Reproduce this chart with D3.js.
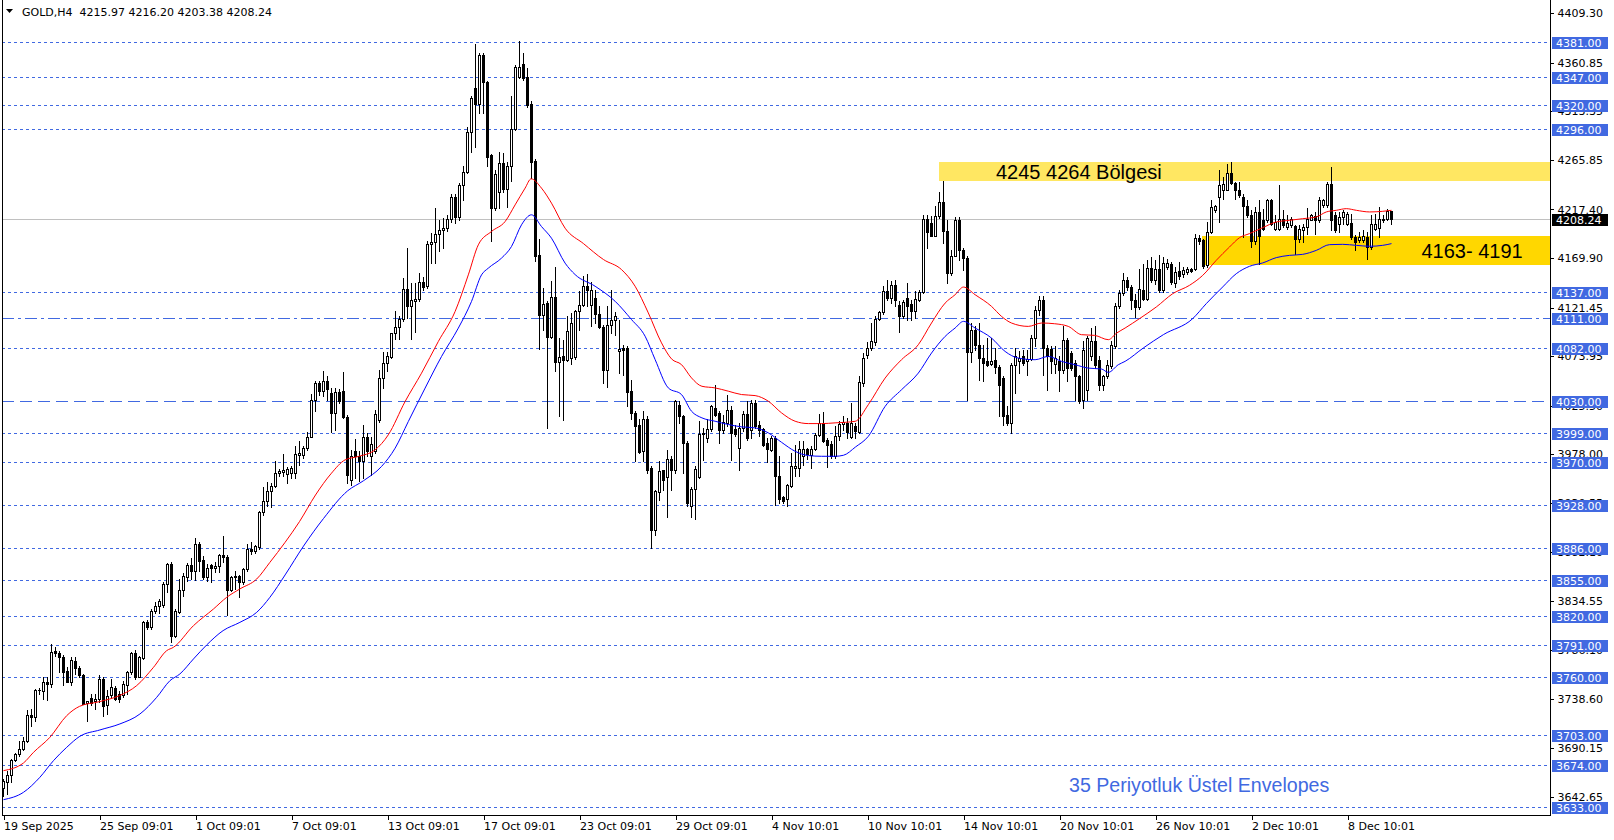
<!DOCTYPE html>
<html><head><meta charset="utf-8">
<script src="https://cdn.jsdelivr.net/npm/d3@7"></script>
<style>
html,body{margin:0;padding:0;background:#fff;}
svg{display:block;}
</style></head>
<body>
<svg id="chart" width="1614" height="840"></svg>
<script>
// ---------------- DATA ----------------
const headerText = "GOLD,H4  4215.97 4216.20 4203.38 4208.24";
const openP = [
3651,3657.5,3664,3679,3685,3689.5,3697.6,3723,3721,3747,
3746,3755.4,3753,3785.7,3783.4,3779.2,3766,3755.4,3775.9,3768.4,
3761.9,3734.5,3739,3736.8,3738.4,3758,3732.5,3742,3748.8,3743.3,
3742.3,3752.4,3764.5,3783.4,3760,3778.2,3813.4,3808.5,3824.8,3829.8,
3830.7,3851,3870.5,3800.4,3823.9,3845.4,3857.5,3869.5,3864,3890,
3874.8,3857.5,3869.5,3866.3,3868.2,3879.3,3877,3845.4,3857.5,3859.1,
3852.6,3865.6,3885.2,3882.9,3886.8,3921,3931.8,3941.6,3947.2,3959.5,
3961,3958.4,3960,3960,3976.7,3976.7,3983.8,3995.2,4030.5,4047.4,
4039.3,4049.1,4037.7,4018.1,4038.6,4039.3,4014.8,3953,3980.6,3975.7,
3970.8,3995.2,3975.7,3980.6,4011.6,4052.3,4067,4073.5,4096.4,4102.2,
4110.4,4139.4,4122.5,4128.3,4129.6,4146.9,4143,4183.5,4185.4,4193.2,
4197.5,4199.1,4207.9,4230.1,4209.6,4240.9,4253.9,4293.1,4336.1,4320.5,
4368.7,4341.7,4270.9,4218.7,4235,4262.7,4237.6,4259.5,4296,4347.5,
4359.6,4347.5,4320.5,4265,4172.4,4113.7,4125.7,4093.1,4131.9,4068,
4074.5,4070.5,4072.2,4072.8,4117.9,4124.4,4143,4124.4,4130.3,4115.2,
4102.5,4060.8,4104.8,4109.7,4078.7,4082,4082,4039.6,4018.4,4006.9,
3980.8,4012.5,3964.5,3903.6,3941.1,3962.3,3955.7,3973.3,3962.3,4026.5,
4015.8,3989,3927,3944,3955.7,3997.3,3993.9,4002.7,4023.3,4018.4,
4002,4008.6,4021.6,4002.7,3984.1,4003.7,4017.7,4001.4,4028.1,4006.9,
4002.7,3989,3982.5,3993.9,3957,3936.2,3934.2,3947.3,3964.9,3964.5,
3975.9,3983.1,3977.6,3983.1,3997.2,4008.6,3992.3,3988.4,3975.9,3995.5,
4007.9,4008.4,3994.7,4005.8,3999.3,4047.6,4075.3,4081.8,4087.4,4110.2,
4116.7,4137.3,4130.7,4143.8,4123.6,4112.8,4130.7,4125.2,4117.7,4129.1,
4136.3,4208,4204.1,4191.7,4210.6,4224.3,4196,4155.2,4172.2,4207.4,
4177.4,4169.9,4077.5,4099.7,4085.1,4072,4069.4,4066.5,4070.4,4063.2,
4052.4,4016.6,4008.4,4065.5,4068.8,4073.6,4068.8,4071,4091.6,4119.3,
4129.1,4081.8,4080.9,4066.5,4068.8,4060.6,4090,4076.9,4067.1,4054.1,
4031.3,4041,4073.6,4088.3,4069.7,4045.9,4054.1,4063.9,4083.4,4122.6,
4135.6,4148.1,4141.6,4128.5,4122,4138.3,4130.1,4160.5,4148.1,4159.5,
4138.3,4161.1,4164.4,4145.5,4157.2,4154.6,4156.2,4158.9,4158.9,4189.8,
4187.2,4162.8,4195.4,4216.6,4229.6,4236.8,4236.8,4253.1,4243.7,4236.8,
4229.6,4220.5,4211.7,4186.6,4214.9,4206.8,4206.8,4226.4,4198.6,4198.6,
4208.4,4200.3,4201.9,4200.9,4188.9,4197,4200.3,4207.5,4210.7,4206.8,
4221.5,4221.5,4242.7,4211.7,4202.9,4210.1,4203.5,4204.2,4190.5,4187.2,
4187.9,4190.5,4180.7,4198.6,4199.6,4206.8,4208.4,4215.97];
const highP = [
3660,3668,3680,3686,3697,3701,3728,3728.6,3748,3749,
3759.6,3759.6,3792,3789,3785.7,3781,3770,3779,3779,3771,
3762.5,3736.8,3743,3743,3762,3759.6,3747,3758,3751,3746,
3756,3766,3784.6,3786,3780.5,3815,3816,3826.3,3833,3836,
3852.6,3871.5,3872,3826.3,3856,3861.7,3871.5,3876,3896,3891.7,
3878.6,3870.5,3870.5,3872,3880,3897.6,3879,3859,3864,3860,
3866.6,3890,3891.7,3889,3922.7,3945.5,3950.4,3950,3971,3963.5,
3978,3965,3966,3986.4,3990.4,3986.4,4000,4036.7,4049.5,4049.1,
4059.5,4054,4042.6,4042.6,4041.9,4058.2,4016,3982.2,3992.9,3980.6,
4006.7,3998.5,3995.2,4021.3,4060.5,4077.8,4078.4,4096.4,4117.6,4112.7,
4150.2,4179.5,4145.3,4145.3,4155.1,4151.8,4186.7,4194.2,4218.7,4207.3,
4208.9,4212.1,4232.4,4232.4,4243.1,4259.5,4298.6,4328,4379.2,4370.4,
4370.4,4343.3,4271.5,4256.2,4274.1,4272.5,4264.3,4328,4358.9,4382.4,
4370.4,4356.3,4323.1,4267,4188.7,4140.4,4127.4,4147.6,4161.6,4091.6,
4090,4113.6,4116.2,4119.5,4137.4,4152.1,4154.4,4146.2,4139,4122.7,
4104.8,4122.7,4138.4,4117.2,4109.7,4085.2,4083.6,4050.3,4020,4012.5,
4020,4015.1,3966.2,3943.3,3971.1,3962.9,3982.5,3975.9,4030.8,4029.8,
4016.7,3990.6,3945.9,3966.2,4010.2,4003.7,4011.9,4026.5,4046.1,4020,
4016.7,4036.3,4024.9,4006.9,4008.6,4020,4029.8,4031.4,4031.4,4010.2,
4003.7,3993.9,3995.5,3995.5,3975.9,3937.5,3949.2,3979.2,3987.4,3990.6,
3990.6,3984.1,3985.7,3998.8,4017.7,4019,3993.9,3990.6,4005.3,4010.2,
4015.1,4013.3,4028,4008.4,4054.1,4076.9,4087.4,4106.3,4112.8,4117.7,
4142.1,4148.7,4147,4148.7,4127.5,4129.1,4145.4,4129.1,4137.3,4138.2,
4212.3,4212.3,4210.6,4220.4,4234.1,4244.9,4207.4,4178,4210,4210,
4179.7,4171.5,4106.3,4103,4106.3,4085.1,4091.6,4091.6,4081.8,4065.5,
4054.7,4024.7,4067.1,4081.8,4078.5,4080.2,4080.2,4094.9,4122.6,4133,
4133,4085.1,4083.4,4083.4,4073.6,4103,4091.6,4078.5,4070.4,4055.7,
4088.3,4093.2,4101.4,4103,4073.6,4055.7,4070.4,4088.3,4125.8,4138.9,
4155.2,4151.3,4143.2,4135,4159.5,4164.4,4167.7,4170.9,4167.7,4172.5,
4170.9,4169.3,4166,4161.1,4166,4161.1,4161.1,4160.5,4193.8,4192.1,
4189,4205.2,4226.4,4221.5,4255.7,4249.2,4262.3,4263.9,4244.3,4244.3,
4232.9,4226.4,4216.6,4219.9,4226.4,4218.2,4228,4228,4211.7,4241.1,
4216.6,4211.7,4210.1,4201.9,4201.9,4203.5,4219.2,4213.3,4214.9,4229.6,
4228,4244.3,4259,4214.9,4214.9,4217.2,4214.9,4213.3,4192.1,4195.4,
4197,4195.4,4211.7,4213.3,4219.9,4211.7,4218.2,4216.2];
const lowP = [
3643,3645,3657,3678,3683,3688,3696,3712,3717,3743,
3738,3737,3750,3780,3765,3752,3755,3752,3763,3759.6,
3733.5,3717,3733,3729,3735,3722,3724,3740,3737,3735,
3740,3743,3763,3758,3759.6,3777.6,3807,3807,3823,3823,
3828,3843,3793.9,3798.8,3822.6,3839.5,3854,3856,3855,3864,
3855.8,3854,3853,3862.3,3862.3,3872,3820.6,3844.4,3846,3837.9,
3851,3864,3880.3,3881.3,3885,3918.7,3927.6,3926,3945.5,3957,
3957,3950,3955,3955,3967.5,3974,3982,3995,4020.4,4036,
4034.4,4031,4000.1,4001.8,4027.9,4013.2,3950,3948,3955,3952,
3955,3975.7,3957.7,3978.9,4009.9,4043.2,4058.9,4071.9,4090.8,4090.8,
4107.8,4111,4090.8,4098,4127.4,4138.8,4140.4,4164.9,4164.9,4176.3,
4179.5,4195.9,4205.6,4204,4207.3,4226.8,4252.9,4274.1,4278.1,4311.6,
4311.6,4259.5,4186.1,4217.1,4218.7,4235,4220.3,4244.8,4295.3,4346,
4344.3,4317.2,4248,4167.2,4081,4099.6,4003.4,4091.5,4058.9,4015,
4011,4068.9,4066.6,4071.2,4099.9,4122.7,4122.7,4103.2,4106.4,4101.5,
4047.7,4043.8,4096.6,4095,4057.5,4055.9,4024.9,4012.5,3971.1,3979.2,
3971.1,3959.7,3886.3,3899.3,3933.5,3943.3,3916.6,3943.3,3959.7,4008.6,
3959.7,3927,3916.6,3914.6,3954.8,3972.7,3989.6,4000.4,4015.1,3989,
3998.8,4005.3,3972.7,3995.5,3962.3,4000.4,3992.3,3993.9,4003.7,3995.5,
3985.8,3970.1,3980.8,3928.7,3929.7,3930.3,3927.7,3945.9,3956.4,3956.4,
3967.8,3973.3,3964.5,3982.5,3996.2,3989.6,3965.5,3974.3,3974.3,3992.3,
4002,3993.7,3993.7,3993.7,3998.6,4044.3,4072,4080.2,4085.1,4109.5,
4115.4,4129.1,4125.8,4122.6,4097.1,4111.2,4109.5,4108.9,4111.2,4127.5,
4135.6,4179.7,4191.1,4191.1,4209,4184.6,4145.4,4153.6,4171.5,4168.2,
4158.5,4031.3,4067.8,4080.2,4050.8,4049.2,4063.9,4065.5,4057.3,4015,
4006.8,4006.8,3998.6,4037.8,4057.3,4065.5,4055.7,4070.4,4083.4,4114,
4055.7,4041,4057.3,4057.3,4039.4,4057.3,4049.2,4060.6,4031.3,4028,
4023.1,4031.3,4070.4,4062.2,4041,4041,4052.4,4062.2,4081.8,4121,
4134,4138.3,4120.4,4112.2,4120.4,4128.5,4128.5,4146.5,4144.8,4136.7,
4136.7,4159.5,4144.8,4141.6,4149.7,4151.3,4153.9,4156.2,4157.9,4184,
4160.5,4161.1,4194.4,4214.9,4205.2,4228,4236.2,4242.7,4228,4229.6,
4190.5,4210.1,4180.7,4184,4164.4,4197,4205.2,4201.9,4197,4197,
4200.3,4198.6,4200.3,4174.2,4185.6,4185.6,4193.8,4206.8,4193.8,4205.2,
4219.9,4219.9,4197,4195.4,4195.4,4203.5,4201.9,4188.9,4177.4,4185.6,
4185.6,4169.3,4179.1,4197,4190.5,4205.2,4206.8,4203.38];
const closeP = [
3658.5,3664,3679,3685,3689.5,3697.6,3723,3721,3747,3747.5,
3755.4,3753,3784,3783.4,3779.2,3764.5,3755.4,3776.6,3768.4,3761.9,
3733.5,3736.8,3734.5,3738.4,3758,3732,3741.7,3749.8,3738.4,3738.4,
3753,3764.5,3783.4,3760,3779.2,3813.4,3808.5,3824.8,3829.8,3834,
3851,3870.5,3800.4,3824.8,3845.4,3859.1,3869.5,3864,3890,3873.8,
3858.1,3866.6,3866.6,3868.2,3879.3,3877,3845.4,3857.5,3859.1,3852.6,
3865.6,3885.2,3882.9,3887.8,3921.7,3931.8,3941.6,3947.2,3959.5,3961.8,
3962,3963.6,3964.3,3978,3978.9,3983.8,3995.2,4030.5,4047.4,4039.3,
4049.1,4041.9,4018.1,4038.6,4030.1,4014.8,3958,3975.7,3975.7,3970.8,
3995.2,3980.6,3987.7,4017.1,4052.3,4067,4074.2,4096.4,4102.2,4110.4,
4139.4,4122.5,4129,4129.6,4146.9,4142,4183.5,4185.4,4193.2,4197.5,
4199.1,4207.9,4230.1,4209.6,4241.5,4253.9,4293.1,4326.3,4320.5,4368.7,
4341.7,4269.2,4218.7,4252,4262.7,4237.6,4259.5,4296,4356.7,4356.7,
4346.5,4319.8,4264.3,4171.4,4113.7,4124.7,4093.1,4131.9,4068,4073.3,
4070.4,4098.9,4106.4,4117.9,4124.4,4143,4138.4,4139,4115.2,4102.5,
4060.1,4104.8,4109.7,4113,4081,4079.7,4038.6,4018.4,4005.9,3979.9,
4012.5,3962.3,3903.6,3941.7,3961.3,3952.5,3973.3,3962.3,4029.8,4015.1,
3989,3929.7,3944,3963.6,3998.1,3998.8,4002.7,4024.9,4016.7,4002,
4009.2,4021.6,3998.8,3998.1,4003.7,4017.7,3993.9,4028.1,4006,4002,
3987.4,3983.1,3993.9,3956.4,3934.2,3931.9,3948.2,3966.8,3966.8,3983.1,
3983.1,3978.6,3983.1,3997.2,4008.6,3990.6,3987.4,3975.9,3995.5,4007.9,
4009.2,3999.3,4008.4,4000.3,4048.2,4072,4081.8,4088.3,4110.2,4116.7,
4137.3,4130.7,4143.8,4129.1,4112.8,4126.5,4122.6,4117.7,4129.8,4136.3,
4208,4195,4191.7,4211.3,4224.3,4196,4155.2,4172.2,4207.4,4177.4,
4169.9,4077.5,4099.1,4085.1,4072,4067.1,4065.5,4069.4,4063.2,4045.9,
4015.6,4008.4,4065.5,4073.6,4072,4067.1,4071,4091.6,4119.3,4129.1,
4081.8,4073.6,4068.8,4072,4060.6,4090,4062.2,4062.2,4054.1,4029.6,
4080.2,4091.6,4088.3,4065.5,4045.9,4054.1,4065.5,4085.1,4122.6,4135.6,
4148.7,4141.6,4128.5,4122,4139.9,4130.1,4160.5,4148.1,4159.5,4138.3,
4165.1,4165.1,4146.5,4156.2,4152,4157.9,4158.9,4157.2,4189.8,4186.6,
4161.8,4195.4,4219.9,4220.5,4241.7,4242.7,4253.1,4243.7,4236.8,4231.3,
4220.5,4211.7,4186.6,4214.9,4191.1,4198.6,4226.4,4203.5,4205.2,4208.4,
4201.9,4204.2,4208.4,4188.9,4198.6,4200.3,4208.4,4211.7,4206.8,4226.4,
4226.4,4242.7,4206.8,4197,4210.1,4214.9,4213.3,4190.5,4185.6,4190.5,
4191.1,4180.7,4203.5,4203.5,4208.4,4208.4,4215.9,4208.24];

// Envelope lines (bar index, price)
const upperBars = [0,5,7.5,11.6,15.8,19,24,29,33.3,37.5,40.8,42.5,47.5,52.5,55.8,59.1,63.3,66.6,70.4,74,78,82,85.4,88.7,92.9,96.2,100.4,104.5,108.7,112.9,116.2,118.7,122,125.4,127.9,130.4,131.9,134.5,137,140.4,145,150,154.5,157.9,161.2,164.5,167,169.5,172,174.6,177.9,181.2,184.5,187.9,191.2,194.5,197.9,201.2,204.5,207.9,212.9,216.2,220.4,224.5,228.7,232,235.4,237.9,240,242.9,247,249.5,252,256.2,259.5,262.8,266.2,269.5,272.8,276.2,278.3,280.4,284,288.2,292.3,296.5,299.8,303.2,306.5,309,311.5,314.8,318.2,321.5,324.8,328.2,330.7,333.2,335.7,338.2,341.5,344.8,347];
const upperVals = [3668.3,3675.8,3686.2,3700.9,3722.1,3731.2,3735.8,3741.7,3751.5,3769.4,3785.7,3789,3810.2,3826.5,3837.9,3846.1,3855.8,3872.1,3891.7,3912,3938,3959.4,3972.4,3975.7,3982.2,3996.9,4029.5,4057.2,4088.2,4117.6,4153.4,4182.8,4195.9,4205.6,4221.9,4238.3,4247.4,4238.3,4223.6,4199.1,4184,4168.4,4158.6,4142.3,4116.2,4086.9,4071.2,4065.6,4052.6,4044.4,4042.8,4039.6,4036.3,4035.3,4029.8,4018.4,4010.2,4007.9,4007.9,4008.6,4010.1,4026.4,4052.4,4070.4,4085.1,4106.3,4125.8,4134,4141.5,4134,4122.6,4112.8,4106.3,4103,4106.3,4105.6,4103,4094.9,4094.2,4090,4096.5,4101.4,4110.6,4122,4135,4143.2,4152.9,4167.7,4180.7,4189.8,4193.8,4199.6,4205.2,4206.8,4208.4,4210.1,4215,4216.6,4218.2,4216.6,4215,4215.6,4216.6];
const lowerBars = [0,5,9.1,12.5,15.8,19.1,24.1,29.1,34.1,38.3,41.6,44.1,47.5,50.8,54.9,59.1,63.3,66.6,70.4,75,80,86,90,94.5,97.9,101.2,105.4,109.5,113.7,117,119.5,121.2,124.5,127,129.5,132,134.5,137,140.4,142.9,147.9,152.9,157,160.4,162.9,166.2,169.5,172,174.6,177.9,181.2,184.5,187.9,191.2,194.5,197.9,201.2,204.5,207.9,210,213,216.2,220.4,224.5,228.7,232,235.4,237.9,240,242.9,247,250.4,253.7,257.9,261.2,264.5,267.9,271.2,274.5,276.2,278.7,280.4,285,290,297.3,300.7,304.8,308.2,311.5,314.8,318.2,321.5,324.8,328.2,331.5,334.8,338.2,341.5,344.8,347];
const lowerVals = [3639.9,3647.1,3661.8,3678.1,3691.1,3701.9,3708.1,3714,3723.7,3740,3756.3,3762.9,3777.6,3791.3,3805.3,3813.4,3823.2,3837.9,3859.8,3888,3915,3942,3952,3965.9,3983.8,4009.9,4042.6,4073.5,4101.3,4127.4,4153.4,4160,4169.8,4181.2,4202.4,4212.2,4200.7,4189.3,4164.9,4153.7,4142.3,4127.6,4109.7,4093.4,4070.6,4042.8,4036.3,4020,4013.5,4010.2,4007,4004.7,4003.7,3998.8,3989.6,3980.8,3976.6,3975.9,3975.9,3976.9,3985,3995.4,4024.7,4041,4057.3,4076.9,4093.2,4101.4,4107.9,4101.4,4091.6,4078.5,4072,4070.4,4073.6,4068.8,4065.5,4062.2,4061.3,4058,4065.5,4068.8,4082,4095,4110.6,4125.3,4141.6,4154.6,4161.8,4165.1,4170.3,4172.5,4173.5,4177.4,4183,4183.3,4182.3,4181.4,4182.3,4184];

const levelPrices = [4381,4347,4320,4296,4137,4111,4082,4030,3999,3970,3928,3886,3855,3820,3791,3760,3703,3674,3633];
const priceTicks = [4409.30,4360.85,4313.35,4265.85,4217.40,4169.90,4121.45,4073.95,4025.50,3978.00,3930.55,3882.10,3834.55,3786.10,3738.60,3690.15,3642.65];
const dateBars = [0,24,48,72,96,120,144,168,192,216,240,264,288,312,336];
const dateLabels = ["19 Sep 2025","25 Sep 09:01","1 Oct 09:01","7 Oct 09:01","13 Oct 09:01","17 Oct 09:01","23 Oct 09:01","29 Oct 09:01","4 Nov 10:01","10 Nov 10:01","14 Nov 10:01","20 Nov 10:01","26 Nov 10:01","2 Dec 10:01","8 Dec 10:01"];
const zoneLow = [4245, 4163];
const zoneHigh = [4264, 4191];
const zoneStartBar = [233.9, 299.7];
const zoneLabels = ["4245 4264 Bölgesi", "4163- 4191"];
const lastPrice = 4208.24;
const noteText = "35 Periyotluk Üstel Envelopes";

// ---------------- DRAW ----------------
const svg = d3.select("#chart");
const plotL = 2, plotR = 1550.5, plotB = 815.5;
const x = d3.scaleLinear().domain([0, 347]).range([3.5, 1391.5]);
const y = d3.scaleLinear().domain([3633, 4381]).range([806.7, 42.3]);
const axisFont = "'DejaVu Sans', Tahoma, sans-serif";
const annFont = "'Liberation Sans', Arial, sans-serif";
const royal = "#4169E1";
const crisp = v => Math.round(v) + 0.5;

svg.append("rect").attr("width",1614).attr("height",840).attr("fill","#fff");

// zones
const zoneFill = ["#FFE762", "#FFD700"];
zoneStartBar.forEach((s,k) => {
  svg.append("rect")
    .attr("x", Math.round(x(s))).attr("y", Math.round(y(zoneHigh[k])))
    .attr("width", plotR - Math.round(x(s)))
    .attr("height", Math.round(y(zoneLow[k])) - Math.round(y(zoneHigh[k])))
    .attr("fill", zoneFill[k]);
});

// level lines
const dashFor = p => p === 4030 ? "12,6" : (p === 4111 ? "12,4,3,4" : "3,3");
svg.append("g").selectAll("line").data(levelPrices).join("line")
  .attr("x1", plotL).attr("x2", plotR)
  .attr("y1", d => crisp(y(d))).attr("y2", d => crisp(y(d)))
  .attr("stroke", royal).attr("stroke-width", 1)
  .attr("stroke-dasharray", d => dashFor(d))
  .attr("shape-rendering","crispEdges");

// current price line
svg.append("line").attr("x1", plotL).attr("x2", plotR)
  .attr("y1", crisp(y(lastPrice))).attr("y2", crisp(y(lastPrice)))
  .attr("stroke", "#C0C0C0").attr("shape-rendering","crispEdges");

// candles
const bars = d3.range(openP.length).map(i => ({i, o: openP[i], h: highP[i], l: lowP[i], c: closeP[i]}));
const cg = svg.append("g").attr("shape-rendering","crispEdges");
cg.selectAll("line").data(bars).join("line")
  .attr("x1", d => x(d.i)).attr("x2", d => x(d.i))
  .attr("y1", d => Math.round(y(Math.max(d.h, d.o, d.c)))).attr("y2", d => Math.round(y(Math.min(d.l, d.o, d.c))) + 1)
  .attr("stroke", "#000");
cg.selectAll("rect").data(bars).join("rect")
  .attr("x", d => d.c >= d.o ? x(d.i) - 1 : x(d.i) - 1.5)
  .attr("width", d => d.c >= d.o ? 2 : 3)
  .attr("y", d => Math.round(y(Math.max(d.o, d.c))) + (d.c >= d.o ? 0.5 : 0))
  .attr("height", d => Math.max(d.c >= d.o ? 0.01 : 1, Math.round(y(Math.min(d.o, d.c))) - Math.round(y(Math.max(d.o, d.c))) + (d.c >= d.o ? 0 : 1)))
  .attr("fill", d => d.c >= d.o ? "#fff" : "#000")
  .attr("stroke", d => d.c >= d.o ? "#000" : "none")
  .attr("stroke-width", 1);

// envelopes
const line = d3.line().x(d => x(d[0])).y(d => y(d[1])).curve(d3.curveMonotoneX);
svg.append("path").datum(upperBars.map((b,k) => [b, upperVals[k]]))
  .attr("d", line).attr("fill","none").attr("stroke","#FF0000").attr("stroke-width",1);
svg.append("path").datum(lowerBars.map((b,k) => [b, lowerVals[k]]))
  .attr("d", line).attr("fill","none").attr("stroke","#0000FF").attr("stroke-width",1);

// zone labels
const zoneTextX = [996, 1421.5];
zoneLabels.forEach((t,k) => {
  svg.append("text").attr("x", zoneTextX[k])
    .attr("y", (y(zoneLow[k]) + y(zoneHigh[k]))/2 + 7)
    .attr("font-family", annFont).attr("font-size", 20).attr("fill", "#000").text(t);
});
svg.append("text").attr("x", 1069).attr("y", 792)
  .attr("font-family", annFont).attr("font-size", 19.6).attr("fill", royal).text(noteText);

// frame
svg.append("line").attr("x1", plotL+0.5).attr("x2", plotL+0.5).attr("y1", 0).attr("y2", plotB).attr("stroke","#000").attr("shape-rendering","crispEdges");
svg.append("line").attr("x1", plotR).attr("x2", plotR).attr("y1", 0).attr("y2", plotB).attr("stroke","#000").attr("shape-rendering","crispEdges");
svg.append("line").attr("x1", plotL).attr("x2", plotR).attr("y1", plotB).attr("y2", plotB).attr("stroke","#000").attr("shape-rendering","crispEdges");

// price axis
const yAxis = d3.axisRight(y).tickValues(priceTicks).tickFormat(d => d.toFixed(2)).tickSize(3).tickPadding(4);
const gy = svg.append("g").attr("transform", `translate(${plotR},0)`).call(yAxis);
gy.select(".domain").remove();
gy.selectAll("line").attr("stroke","#000").attr("shape-rendering","crispEdges");
gy.selectAll("text").attr("font-family", axisFont).attr("font-size", 11).attr("fill","#000");

// level labels (drawn over the price scale, as in the terminal)
const lg = svg.append("g");
levelPrices.forEach(p => {
  const ly = Math.round(y(p));
  lg.append("rect").attr("x", 1552).attr("y", ly - 5).attr("width", 56).attr("height", 12).attr("fill", royal);
  lg.append("text").attr("x", 1556).attr("y", ly + 5).attr("font-family", axisFont).attr("font-size", 11)
    .attr("fill","#fff").text(p.toFixed(2));
});
{
  const ly = Math.round(y(lastPrice));
  lg.append("rect").attr("x", 1552).attr("y", ly - 5).attr("width", 56).attr("height", 12).attr("fill", "#000");
  lg.append("text").attr("x", 1556).attr("y", ly + 5).attr("font-family", axisFont).attr("font-size", 11)
    .attr("fill","#fff").text(lastPrice.toFixed(2));
}

// date axis
const xAxis = d3.axisBottom(x).tickValues(dateBars).tickFormat((d,i) => dateLabels[i]).tickSize(4).tickPadding(3);
const gx = svg.append("g").attr("transform", `translate(0,${plotB})`).call(xAxis);
gx.select(".domain").remove();
gx.selectAll("line").attr("stroke","#000").attr("shape-rendering","crispEdges");
gx.selectAll("text").attr("text-anchor","start").attr("x", 0)
  .attr("font-family", axisFont).attr("font-size", 11).attr("fill","#000");

// header
svg.append("path").attr("d","M6,9 L13,9 L9.5,13 Z").attr("fill","#000");
svg.append("text").attr("x", 22).attr("y", 16).attr("font-family", axisFont).attr("font-size", 11)
  .attr("fill","#000").style("white-space","pre").text(headerText);
</script>
</body></html>
